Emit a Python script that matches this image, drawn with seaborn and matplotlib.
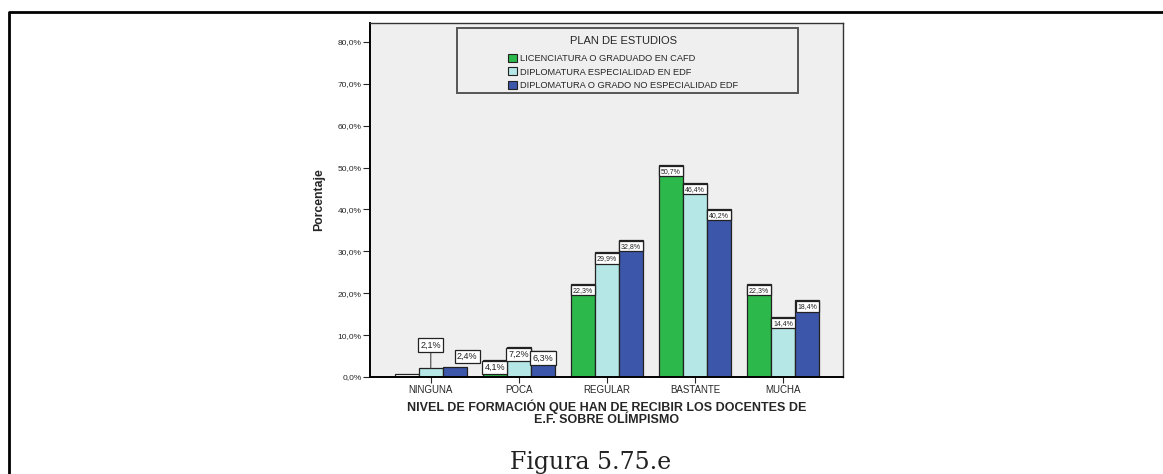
import numpy as np
import pandas as pd
import matplotlib
matplotlib.use("Agg")
import matplotlib.pyplot as plt
from matplotlib.patches import Rectangle
from matplotlib.ticker import FuncFormatter
import seaborn as sns

#-----------------------------------------
# datos
#-----------------------------------------
categorias = ["NINGUNA", "POCA", "REGULAR", "BASTANTE", "MUCHA"]
planes = ["LICENCIATURA O GRADUADO EN CAFD",
          "DIPLOMATURA ESPECIALIDAD EN EDF",
          "DIPLOMATURA O GRADO NO ESPECIALIDAD EDF"]
licenciatura = [0.6, 4.1, 22.3, 50.7, 22.3]
diplomatura_edf = [2.1, 7.2, 29.9, 46.4, 14.4]
diplomatura_no_edf = [2.4, 6.3, 32.8, 40.2, 18.4]

colores = ["#2db84b", "#b4e7e6", "#3c56a9"]

df = pd.DataFrame({
    "nivel": categorias * 3,
    "plan": [planes[0]] * 5 + [planes[1]] * 5 + [planes[2]] * 5,
    "pct": licenciatura + diplomatura_edf + diplomatura_no_edf,
})

sns.set_style("white")
plt.rcParams['font.family'] = ['Liberation Sans', 'DejaVu Sans']

fig = plt.figure(figsize=(11.63, 4.74), dpi=100)
ax = fig.add_axes([370 / 1163, (474 - 377) / 474, 473 / 1163, 354 / 474])
ax.set_facecolor("#efefef")

sns.barplot(data=df, x="nivel", y="pct", hue="plan", order=categorias,
            hue_order=planes, palette=colores, width=0.82, saturation=1,
            edgecolor="#222222", linewidth=0.9, ax=ax, legend=False)

ax.set_xlim(-0.69, 4.68)
ax.set_ylim(0, 84.5)
ax.set_yticks(np.arange(0, 81, 10))
ax.yaxis.set_major_formatter(FuncFormatter(lambda v, p: f"{v:.1f}%".replace(".", ",")))
ax.tick_params(axis="y", direction="out", length=5, width=0.8, labelsize=6, pad=1, left=True)
ax.tick_params(axis="x", direction="out", length=4, width=0.8, labelsize=7, pad=2, bottom=True)

for s in ["left", "bottom"]:
    ax.spines[s].set_color("black")
    ax.spines[s].set_linewidth(1.4)
for s in ["top", "right"]:
    ax.spines[s].set_color("#333333")
    ax.spines[s].set_linewidth(1.0)

ax.set_ylabel("Porcentaje", fontsize=8.8, fontweight="bold", labelpad=9)
ax.set_xlabel("NIVEL DE FORMACIÓN QUE HAN DE RECIBIR LOS DOCENTES DE\nE.F. SOBRE OLÍMPISMO",
              fontsize=9, fontweight="bold", linespacing=0.95, labelpad=3)

#-----------------------------------------
# etiquetas de las barras
#-----------------------------------------
desplazamientos = {(1, 0): (0, 22), (2, 0): (9, 13)}
for i, cont in enumerate(ax.containers):
    for j, barra in enumerate(cont.patches):
        v = barra.get_height()
        xc = barra.get_x() + barra.get_width() / 2
        if v < 1:
            barra.set_facecolor("white")
            continue
        txt = f"{v:.1f}%".replace(".", ",")
        fs = 6.5 if j < 2 else 5
        dx, dy = desplazamientos.get((i, j), (0, 0))
        props = None
        if (i, j) == (1, 0):
            props = dict(arrowstyle="-", color="#444444", lw=0.8, shrinkA=0, shrinkB=0)
        ax.annotate(txt, xy=(xc, v), xytext=(dx, dy - 2.2), textcoords="offset points",
                    ha="center", va="top", fontsize=fs, color="#222222",
                    bbox=dict(boxstyle="square,pad=0.25", fc="white", ec="#222222", lw=0.9),
                    arrowprops=props, zorder=5)

#-----------------------------------------
# leyenda
#-----------------------------------------
ax.add_patch(Rectangle((0.184, 0.802), 0.721, 0.185, transform=ax.transAxes,
                       facecolor="#efefef", edgecolor="#555555", lw=1.4, zorder=4))
handles = [Rectangle((0, 0), 1, 1, facecolor=c, edgecolor="#222222", lw=0.8) for c in colores]
leg = ax.legend(handles, planes, title="PLAN DE ESTUDIOS", loc="upper center",
                bbox_to_anchor=(0.535, 0.975), frameon=False, fontsize=6.7,
                title_fontsize=8, handlelength=0.95, handleheight=0.95,
                handletextpad=0.3, labelspacing=0.45, borderaxespad=0)
leg.set_zorder(6)
leg.get_title().set_position((0, 0))
leg._legend_box.sep = 6

#-----------------------------------------
# marco de la pagina y pie de figura
#-----------------------------------------
fig.add_artist(plt.Line2D([9 / 1163, 9 / 1163, 1.0], [0, 1 - 12 / 474, 1 - 12 / 474],
                          transform=fig.transFigure, color="black", lw=2))
fig.text(591 / 1163, 1 - 462 / 474, "Figura 5.75.e", ha="center", va="center",
         fontsize=17, family=["DejaVu Serif"], color="#222222")

plt.savefig("out.png", dpi=100)
